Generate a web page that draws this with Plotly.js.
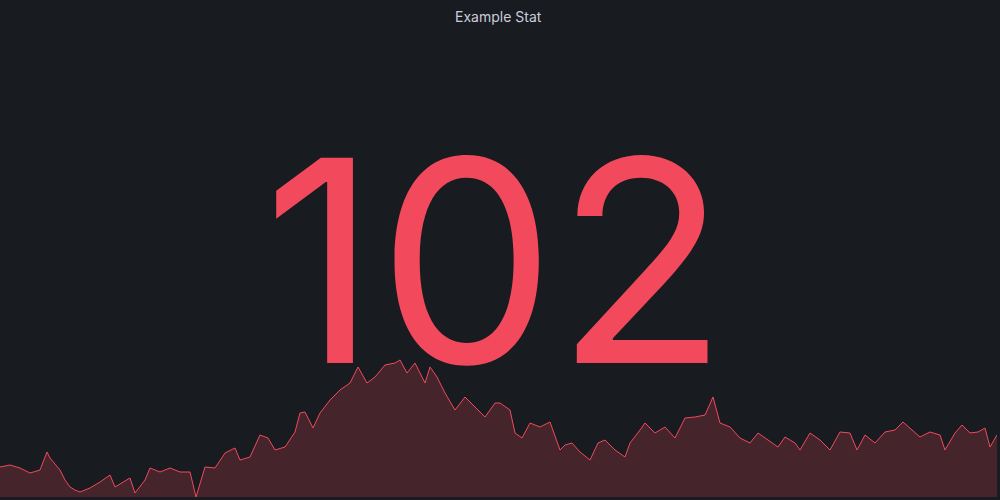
<!DOCTYPE html>
<html>
<head>
<meta charset="utf-8">
<script src="https://cdn.plot.ly/plotly-3.0.1.min.js"></script>
<style>
  html, body { margin: 0; padding: 0; background: #181b1f; }
  #chart { width: 1000px; height: 500px; }
</style>
</head>
<body>
<div id="chart"></div>
<script>
'use strict';

// sparkline samples
const times = [0,10,20,30,40,47,50,60,65,70,75,80,90,100,110,115,130,135,145,150,160,170,180,190,196,
  205,215,225,235,240,250,260,268,275,285,295,300,305,313,320,330,340,350,358,367,375,385,395,400,407,
  415,425,430,437,445,455,465,475,485,495,500,510,515,522,530,540,550,560,565,572,580,590,598,605,615,
  625,630,640,645,655,665,675,685,695,705,713,720,730,740,750,758,768,778,785,795,800,810,820,830,840,
  850,857,865,875,885,895,903,912,920,930,940,945,955,962,970,978,985,990,997,1000];
const values = [30,32,29,24,27,45,39,27,17,10,7,5,9,15,22,10,19,4,17,29,25,29,25,25,0,
  30,29,44,49,37,40,62,59,47,50,65,84,85,69,84,97,107,114,130,114,120,132,134,137,124,
  134,114,130,120,104,87,100,90,80,94,94,87,64,59,74,70,75,47,52,54,45,37,54,57,47,
  40,54,67,74,64,70,59,79,80,82,100,74,70,59,54,64,57,50,60,54,47,64,57,47,65,
  64,47,62,54,65,67,75,67,60,65,62,47,64,72,64,65,69,50,62,60];

const statValue = '102';
const panelTitle = 'Example Stat';

const trace = {
  x: times,
  y: values,
  type: 'scatter',
  mode: 'lines',
  line: {color: '#f2495c', width: 1},
  fill: 'tozeroy',
  fillcolor: '#45242b',
  hoverinfo: 'skip'
};

const layout = {
  width: 1000,
  height: 500,
  margin: {l: 0, r: 3, t: 0, b: 3},
  paper_bgcolor: '#181b1f',
  plot_bgcolor: '#181b1f',
  showlegend: false,
  xaxis: {range: [0, 997], visible: false, fixedrange: true},
  yaxis: {range: [0, 497], visible: false, fixedrange: true},
  annotations: [
    {
      text: statValue, xref: 'paper', yref: 'paper', x: 0.497, y: 0.476,
      xanchor: 'center', yanchor: 'middle', showarrow: false,
      font: {family: 'Inter, Roboto, sans-serif', size: 282, color: '#f2495c'}
    },
    {
      text: panelTitle, xref: 'paper', yref: 'paper', x: 0.5, y: 0.967,
      xanchor: 'center', yanchor: 'middle', showarrow: false,
      font: {family: 'Inter, Roboto, sans-serif', size: 14, color: '#ccccdc'}
    }
  ]
};

Plotly.newPlot('chart', [trace], layout, {displayModeBar: false, staticPlot: true});
</script>
</body>
</html>
